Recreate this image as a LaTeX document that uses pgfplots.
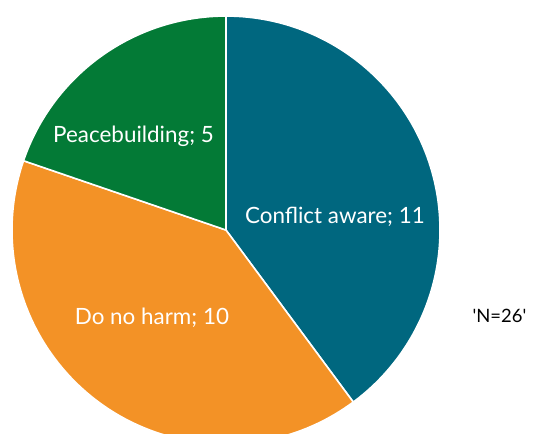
\documentclass[border=0pt]{standalone}
\usepackage{pgfplots}
\usepackage{pgfplotstable}
\pgfplotsset{compat=1.18}
\usepackage{fontspec}
\setmainfont{Lato}
\definecolor{cteal}{HTML}{00677F}
\definecolor{corange}{HTML}{F39226}
\definecolor{cgreen}{HTML}{037A36}
\pgfplotstableread{
label value share
Conflict 11 143.5
Harm 10 145.4
Peace 5 71.1
}\piedata
\begin{document}
\begin{tikzpicture}
\pgfplotstablegetelem{0}{share}\of\piedata \let\sA\pgfplotsretval
\pgfplotstablegetelem{1}{share}\of\piedata \let\sB\pgfplotsretval
\pgfplotstablegetelem{2}{share}\of\piedata \let\sC\pgfplotsretval
\pgfmathsetmacro{\aA}{90-\sA}
\pgfmathsetmacro{\aB}{\aA-\sB}
\pgfmathsetmacro{\aC}{\aB-\sC}
\begin{axis}[
  x=214bp, y=214bp,
  xmin=-1.056, xmax=1.444, ymin=-0.953, ymax=1.075,
  hide axis, clip=true,
]
\path[draw=none] (rel axis cs:0,0) rectangle (rel axis cs:1,1);
\filldraw[fill=cteal, draw=white, line width=1.6pt] (axis cs:0,0) -- ++(90:214bp) arc[start angle=90, end angle=\aA, radius=214bp] -- cycle;
\filldraw[fill=corange, draw=white, line width=1.6pt] (axis cs:0,0) -- ++(\aA:214bp) arc[start angle=\aA, end angle=\aB, radius=214bp] -- cycle;
\filldraw[fill=cgreen, draw=white, line width=1.6pt] (axis cs:0,0) -- ++(\aB:214bp) arc[start angle=\aB, end angle=\aC, radius=214bp] -- cycle;
\node[text=white, font=\fontsize{22.5}{26}\selectfont] at (axis cs:0.509,0.061) {Conflict aware; 11};
\node[text=white, font=\fontsize{22.5}{26}\selectfont] at (axis cs:-0.346,-0.411) {Do no harm; 10};
\node[text=white, font=\fontsize{22.5}{26}\selectfont] at (axis cs:-0.432,0.439) {Peacebuilding; 5};
\node[text=black, font=\fontsize{18.5}{22}\selectfont] at (axis cs:1.278,-0.402) {\textquotesingle N=26\textquotesingle};
\end{axis}
\end{tikzpicture}
\end{document}
